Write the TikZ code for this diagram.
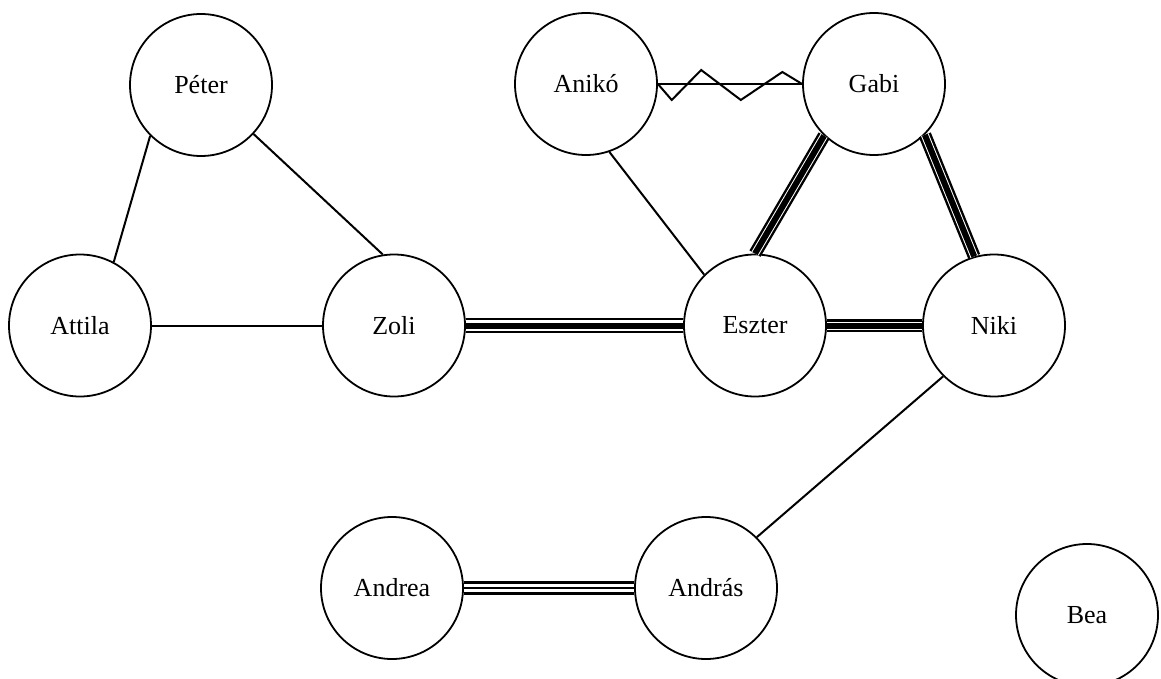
\documentclass[tikz,border=0pt]{standalone}
\usepackage{fontspec}
\setmainfont{Liberation Serif}
\usetikzlibrary{calc}
\begin{document}
\begin{tikzpicture}[x=1pt,y=-1pt,
  person/.style={circle,draw,line width=1.8pt,minimum size=142pt,inner sep=0pt,
    font=\fontsize{26}{30}\selectfont},
  edge/.style={line width=2pt},
  tripleout/.style={line width=2.4pt,double=white,double distance=8pt},
  triplemid/.style={line width=6pt},
  tripleoutw/.style={line width=2.4pt,double=white,double distance=11pt},
  eqout/.style={line width=2.6pt,double=white,double distance=8pt},
  eqmid/.style={line width=2.6pt}]
\useasboundingbox (0,0) rectangle (1161,679);
\node[person] (peter)  at (201,85)  {Péter};
\node[person] (attila) at (80,325.5)  {Attila};
\node[person] (zoli)   at (394,325.5) {Zoli};
\node[person] (aniko)  at (586,84)  {Anikó};
\node[person] (gabi)   at (874,84)  {Gabi};
\node[person] (eszter) at (755,325.5) {Eszter};
\node[person] (niki)   at (994,325.5) {Niki};
\node[person] (andrea) at (392,588) {Andrea};
\node[person] (andras) at (706,588) {András};
\node[person] (bea)    at (1087,615) {Bea};
% simple edges
\draw[edge] (peter.225) -- (attila.62);
\draw[edge] (peter.-43) -- (zoli.99);
\draw[edge] (attila) -- (zoli);
\draw[edge] (aniko.-71) -- (eszter.135);
\draw[edge] (niki.225) -- (andras.45);
% zigzag edge
\draw[edge] (aniko.east) -- (gabi.west);
\draw[edge,line join=miter] (aniko.east)
  -- ($(aniko.east)!0.096!(gabi.west)+(0,16)$)
  -- ($(aniko.east)!0.30!(gabi.west)+(0,-14)$)
  -- ($(aniko.east)!0.575!(gabi.west)+(0,16)$)
  -- ($(aniko.east)!0.863!(gabi.west)+(0,-12)$)
  -- (gabi.west);
% triple edges
\draw[tripleoutw] (zoli) -- (eszter);
\draw[triplemid] (zoli) -- (eszter);
\draw[tripleout] (eszter) -- (niki);
\draw[triplemid] (eszter) -- (niki);
\draw[tripleout] (gabi.226) -- (eszter.90);
\draw[triplemid] (gabi.226) -- (eszter.90);
\draw[tripleout] (gabi.-45) -- (niki.106);
\draw[triplemid] (gabi.-45) -- (niki.106);
\draw[eqout] (andrea) -- (andras);
\draw[eqmid] (andrea) -- (andras);
\end{tikzpicture}
\end{document}
